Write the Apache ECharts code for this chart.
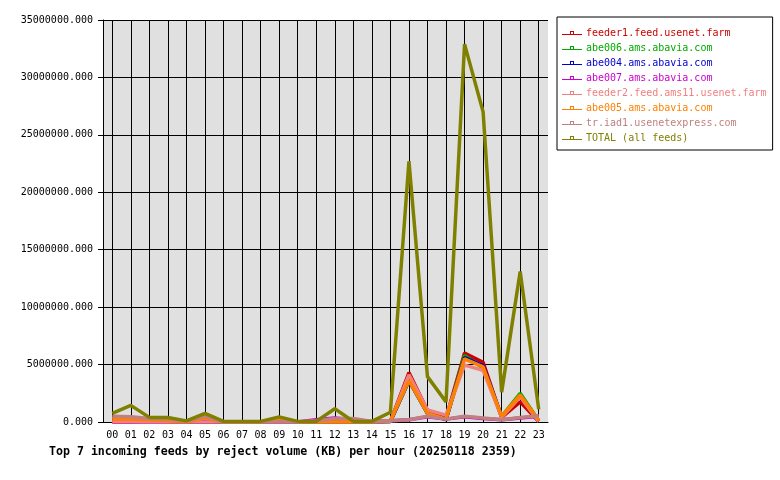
<!DOCTYPE html>
<html>
<head>
<meta charset="utf-8">
<script src="https://cdn.jsdelivr.net/npm/echarts@6/dist/echarts.min.js"></script>
<style>
    html, body { margin: 0; padding: 0; background: #fff; }
    #chart { width: 780px; height: 480px; }
</style>
</head>
<body>
<div id="chart"></div>
<script>
// data, in millions of KB
const hours = ['00', '01', '02', '03', '04', '05', '06', '07', '08', '09', '10', '11', '12', '13', '14', '15', '16', '17', '18', '19', '20', '21', '22', '23']
const feeder1 = [0, 0, 0, 0, 0, 0, 0, 0, 0, 0, 0, 0, 0, 0, 0, 0.05, 4.3, 1.0, 0.35, 6.0, 5.2, 0.4, 1.75, 0.05]
const abe006 = [0.3, 0.2, 0.1, 0.1, 0, 0.1, 0, 0, 0, 0.05, 0, 0, 0, 0, 0, 0.05, 3.6, 0.75, 0.2, 5.8, 4.7, 0.5, 2.5, 0.1]
const abe004 = [0.1, 0.1, 0.05, 0.05, 0, 0.05, 0, 0, 0, 0, 0, 0, 0, 0, 0, 0.05, 3.6, 0.75, 0.2, 5.6, 4.9, 0.45, 2.3, 0.1]
const abe007 = [0, 0, 0, 0, 0, 0, 0, 0, 0, 0, 0, 0.2, 0.35, 0.2, 0.05, 0.1, 0.2, 0.45, 0.25, 0.45, 0.3, 0.2, 0.35, 0.5]
const feeder2 = [0.05, 0.05, 0, 0, 0, 0, 0, 0, 0, 0, 0, 0, 0, 0, 0, 0.05, 4.1, 1.05, 0.6, 4.95, 4.5, 0.4, 2.2, 0.05]
const abe005 = [0.25, 0.25, 0.2, 0.1, 0, 0.35, 0, 0, 0, 0.35, 0, 0, 0, 0, 0, 0.1, 3.6, 0.75, 0.25, 5.5, 4.8, 0.5, 2.35, 0.15]
const triad1 = [0.5, 0.45, 0.3, 0.25, 0.05, 0.5, 0, 0, 0, 0, 0, 0.1, 0.3, 0.3, 0.05, 0.1, 0.2, 0.5, 0.25, 0.5, 0.35, 0.2, 0.4, 0.55]
const total = [0.75, 1.45, 0.4, 0.4, 0.1, 0.75, 0.05, 0.05, 0.05, 0.45, 0.05, 0.05, 1.15, 0.05, 0.05, 0.85, 22.7, 3.95, 1.75, 32.9, 27.0, 2.6, 13.1, 1.1]
const yTicks = [0, 5000000, 10000000, 15000000, 20000000, 25000000, 30000000, 35000000]

const feedNames = [
    'feeder1.feed.usenet.farm',
    'abe006.ams.abavia.com',
    'abe004.ams.abavia.com',
    'abe007.ams.abavia.com',
    'feeder2.feed.ams11.usenet.farm',
    'abe005.ams.abavia.com',
    'tr.iad1.usenetexpress.com',
    'TOTAL (all feeds)',
]
const feedData = [feeder1, abe006, abe004, abe007, feeder2, abe005, triad1, total]
const feedColors = ['#cc0000', '#00aa00', '#0000cc', '#cc00cc', '#f08080', '#ff8000', '#c08080', '#808000']

const mono = 'DejaVu Sans Mono'
// line with a small box on it, like the legend of the original
const legendIcon = 'path://M0,7 L20,7 L20,8 L0,8 Z M8,4 L12,4 L12,7 L11,7 L11,5 L9,5 L9,7 L8,7 Z'

// helper axis: half-hour slots, so the vertical grid lines sit on the hour labels
const halfSlots = []
for (let i = 0; i <= hours.length * 2; i++) {
    halfSlots.push(String(i))
}

function paintChart(dom) {
    let myChart = echarts.init(dom, null, { renderer: 'canvas' })

    let series = feedNames.map((name, i) => {
        return {
            name: name,
            type: 'line',
            xAxisIndex: 0,
            data: feedData[i].map((v) => v * 1000000),
            symbol: 'none',
            lineStyle: { width: 3.5, color: feedColors[i] },
            itemStyle: { color: feedColors[i] },
        }
    })

    let option = {
        animation: false,
        backgroundColor: '#ffffff',
        title: {
            text: 'Top 7 incoming feeds by reject volume (KB) per hour (20250118 2359)',
            left: 49,
            top: 446,
            padding: 0,
            textStyle: { fontFamily: mono, fontSize: 11.6, fontWeight: 'bold', color: '#000' },
        },
        legend: {
            orient: 'vertical',
            left: 557,
            top: 17,
            padding: [11, 6, 7, 5],
            itemGap: 5,
            itemWidth: 20,
            itemHeight: 10,
            icon: legendIcon,
            backgroundColor: '#ffffff',
            borderColor: '#000000',
            borderWidth: 1,
            borderRadius: 0,
            data: feedNames.map((name, i) => {
                return { name: name, textStyle: { color: feedColors[i] } }
            }),
            textStyle: { fontFamily: mono, fontSize: 10, lineHeight: 10, padding: [0, 0, 0, -1] },
        },
        grid: {
            left: 103,
            right: 232,
            top: 20,
            bottom: 58,
            show: true,
            backgroundColor: '#e0e0e0',
            borderWidth: 0,
        },
        xAxis: [
            {
                type: 'category',
                data: hours,
                boundaryGap: true,
                axisLine: { lineStyle: { color: '#000', width: 1 } },
                axisTick: { alignWithLabel: true, length: 5, lineStyle: { color: '#000' } },
                axisLabel: { fontFamily: mono, fontSize: 10, color: '#000', margin: 8, interval: 0 },
                splitLine: { show: false },
                z: 3,
            },
            {
                type: 'category',
                data: halfSlots,
                boundaryGap: false,
                position: 'bottom',
                axisLine: { show: false },
                axisTick: { show: false },
                axisLabel: { show: false },
                splitLine: {
                    show: true,
                    interval: (index) => index % 2 === 1,
                    lineStyle: { color: '#000', width: 1 },
                },
            },
        ],
        yAxis: {
            type: 'value',
            min: yTicks[0],
            max: yTicks[yTicks.length - 1],
            interval: yTicks[1] - yTicks[0],
            axisLine: { show: true, lineStyle: { color: '#000', width: 1 } },
            axisTick: { show: true, length: 5, lineStyle: { color: '#000' } },
            axisLabel: {
                fontFamily: mono,
                fontSize: 10,
                color: '#000',
                margin: 10,
                formatter: (v) => v.toFixed(3),
            },
            splitLine: { show: true, lineStyle: { color: '#000', width: 1 } },
        },
        series: series,
    }

    myChart.setOption(option)
}
paintChart(document.getElementById('chart'))
</script>
</body>
</html>
